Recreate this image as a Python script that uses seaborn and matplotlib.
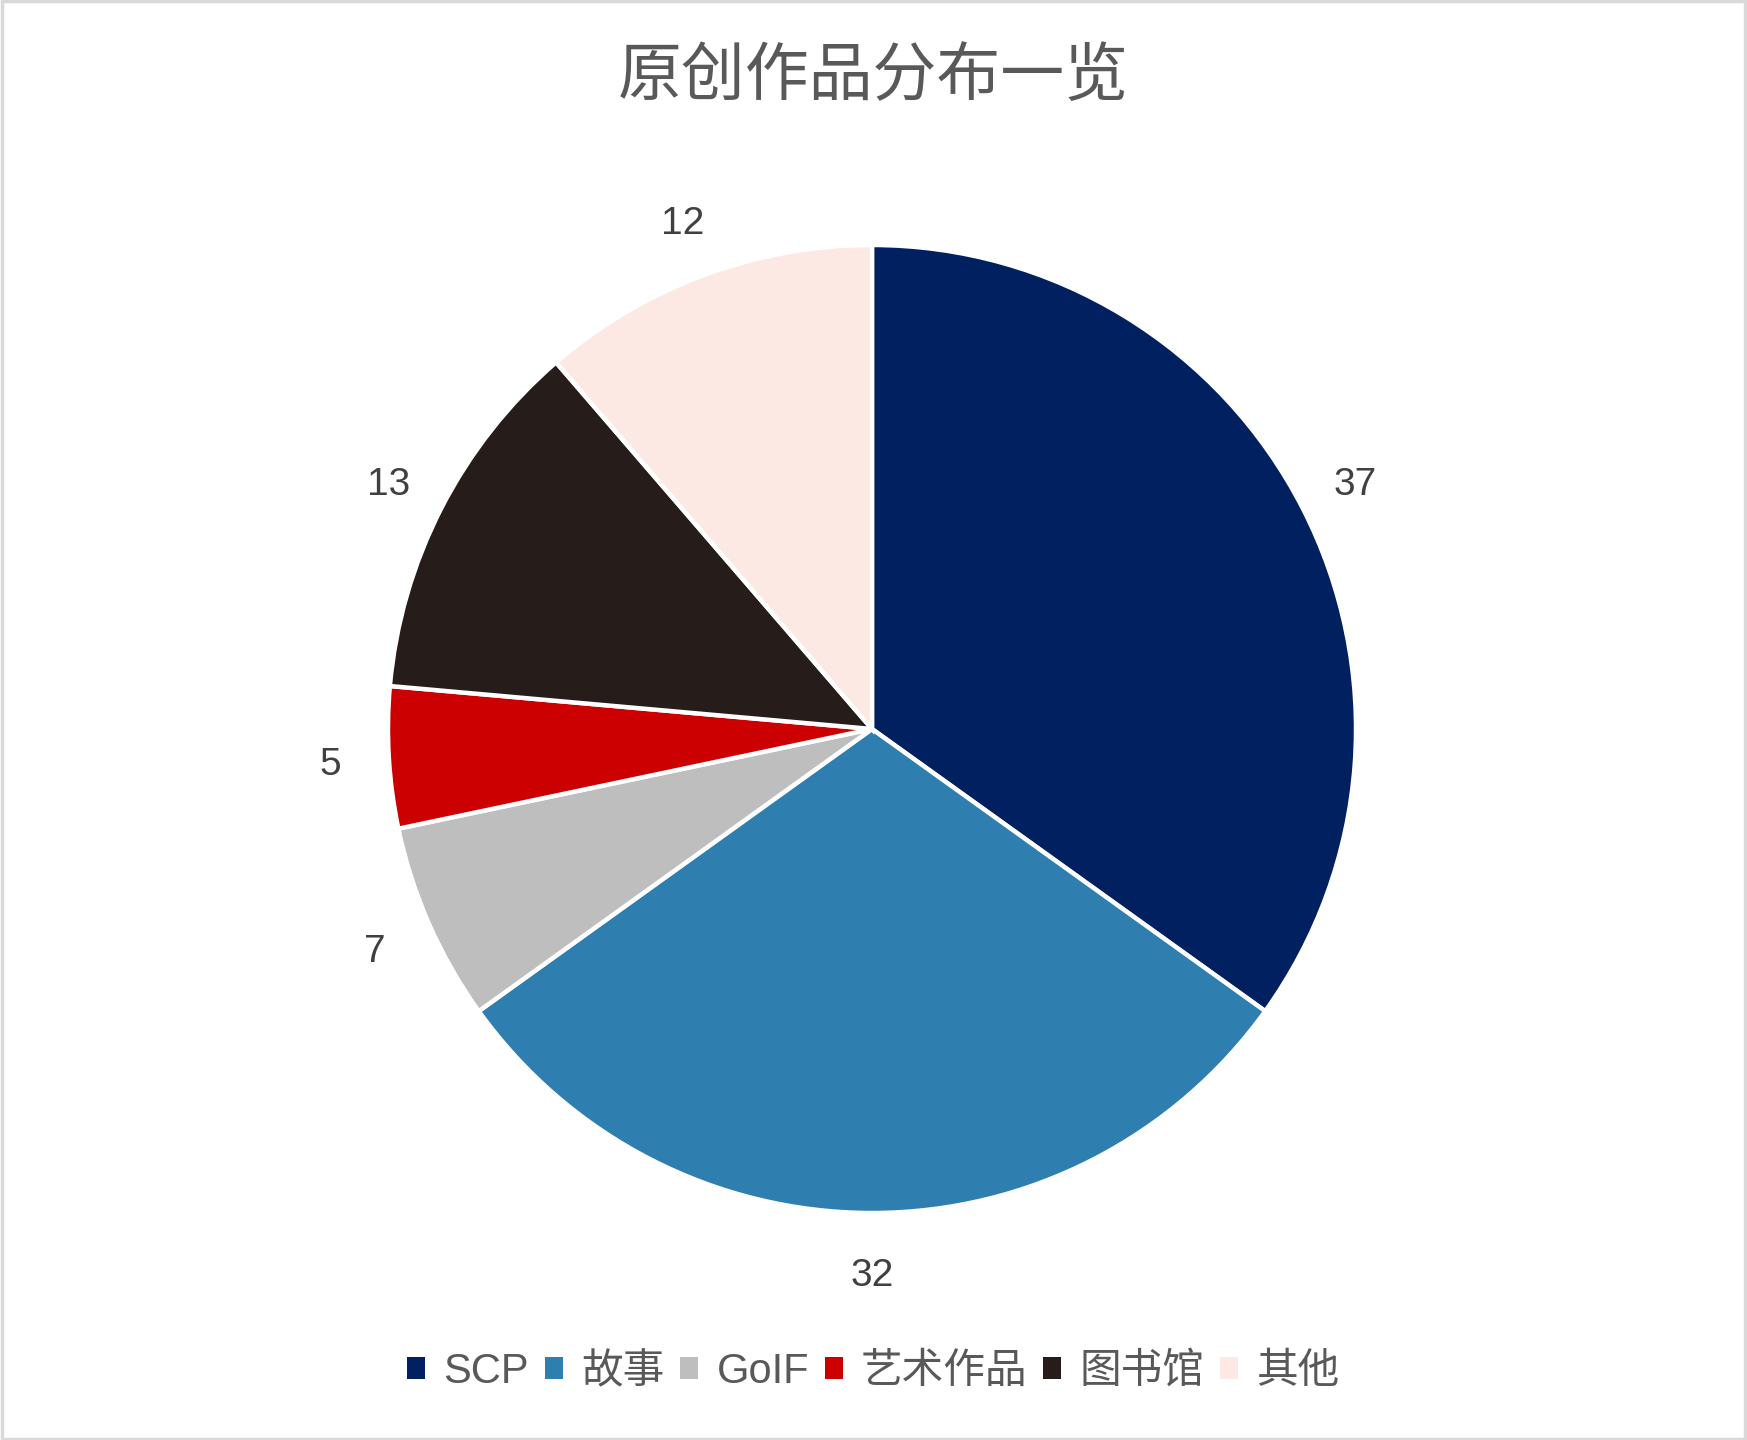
import matplotlib
matplotlib.use("Agg")
import matplotlib.pyplot as plt
import seaborn as sns
from matplotlib.patches import Rectangle

categories = ["SCP", "故事", "GoIF", "艺术作品", "图书馆", "其他"]
values = [37, 32, 7, 5, 13, 12]
colors = ["#002060", "#2E7EB0", "#BDBEBD", "#CC0000", "#261C1A", "#FCE9E4"]
title = "原创作品分布一览"

sns.set_theme(style="white")
plt.rcParams['font.family'] = ['Liberation Sans', 'Noto Sans CJK SC', 'DejaVu Sans']

W, H = 1747, 1440
fig = plt.figure(figsize=(W / 100, H / 100), dpi=100)
cx, cy, r = 872, 729, 484
ax = fig.add_axes([(cx - r) / W, (H - cy - r) / H, 2 * r / W, 2 * r / H])

palette = sns.color_palette(colors)
wedges, texts = ax.pie(values, colors=palette, startangle=90, counterclock=False,
                       radius=1, labels=[str(v) for v in values], labeldistance=1.122,
                       wedgeprops=dict(edgecolor="white", linewidth=3.2),
                       textprops=dict(fontsize=28, color="#404040"))
for t in texts:
    t.set_horizontalalignment("center")
    t.set_verticalalignment("center")
    x, y = t.get_position()
    t.set_position((x, y - 0.008))
ax.set_xlim(-1, 1)
ax.set_ylim(-1, 1)
ax.set_aspect("equal")
ax.axis("off")

fig.text(0.5, 1 - 78 / H, title, ha="center", va="center", fontsize=46, color="#595959")

leg = fig.legend(wedges, categories, loc="center", bbox_to_anchor=(0.5, 1 - 1372 / H),
                 ncol=6, frameon=False, fontsize=30, handlelength=0.43, handleheight=0.43,
                 handletextpad=0.44, columnspacing=0.38)
for t in leg.get_texts():
    t.set_color("#595959")
for h in leg.legend_handles:
    h.set_linewidth(0)

fig.patches.append(Rectangle((0.001, 0.001), 0.998, 0.998, transform=fig.transFigure,
                             fill=False, edgecolor="#D9D9D9", linewidth=2.5, zorder=10))

fig.savefig("out.png", dpi=100, facecolor="white")
